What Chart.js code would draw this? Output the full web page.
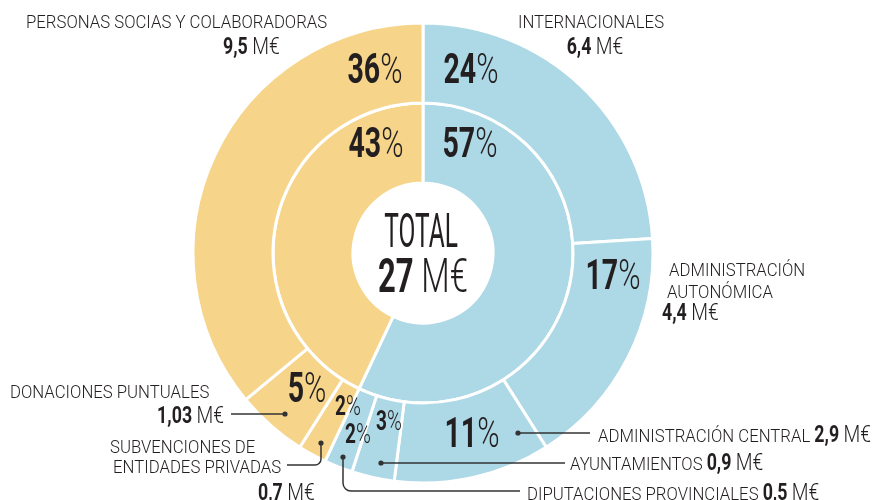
<!DOCTYPE html>
<html>
<head>
<meta charset="utf-8">
<script src="https://cdn.jsdelivr.net/npm/chart.js@4/dist/chart.umd.min.js"></script>
<style>
  html, body { margin: 0; padding: 0; background: #fff; }
  #wrap { width: 878px; height: 500px; }
</style>
</head>
<body>
<div id="wrap"><canvas id="chart" width="878" height="500"></canvas></div>
<script>
/* ===== Ingresos: doble anillo ===== */

// Outer ring (clockwise from 12 o'clock)
const outerLabels = [
  'INTERNACIONALES',
  'ADMINISTRACIÓN AUTONÓMICA',
  'ADMINISTRACIÓN CENTRAL',
  'AYUNTAMIENTOS',
  'DIPUTACIONES PROVINCIALES',
  'SUBVENCIONES DE ENTIDADES PRIVADAS',
  'DONACIONES PUNTUALES',
  'PERSONAS SOCIAS Y COLABORADORAS'
];
const outerPercent = [24, 17, 11, 3, 2, 2, 5, 36];
const outerAmount  = ['6,4', '4,4', '2,9', '0,9', '0,5', '0,7', '1,03', '9,5'];
const outerGroup   = ['pub', 'pub', 'pub', 'pub', 'pub', 'priv', 'priv', 'priv'];

// Inner ring
const innerLabels  = ['Público', 'Privado'];
const innerPercent = [57, 43];
const innerGroup   = ['pub', 'priv'];

const totalAmount = '27';

const COLORS = { pub: '#ADD8E6', priv: '#F6D58B', ink: '#231F20', line: '#333333' };
const FONT = 'Roboto, "DejaVu Sans", sans-serif';

// where each label sits (annotation layout, not data)
const outerPctPos = [
  { x: 471, y: 83,  size: 42 },
  { x: 613, y: 289, size: 42 },
  { x: 472, y: 447, size: 42 },
  { x: 389, y: 430, size: 28 },
  { x: 358, y: 443, size: 28 },
  { x: 348, y: 415, size: 28 },
  { x: 307, y: 402, size: 42 },
  { x: 375, y: 83,  size: 42 }
];
const innerPctPos = [
  { x: 470, y: 157, size: 42 },
  { x: 376, y: 157, size: 42 }
];

function runs(ctx, parts, x, y, align) {
  let total = 0;
  parts.forEach(p => {
    ctx.font = `${p.w} ${p.s}px ${FONT}`;
    p.width = ctx.measureText(p.t).width * p.sx;
    total += p.width;
  });
  let cx = align === 'center' ? x - total / 2 : align === 'right' ? x - total : x;
  parts.forEach(p => {
    ctx.save();
    ctx.font = `${p.w} ${p.s}px ${FONT}`;
    ctx.fillStyle = COLORS.ink;
    ctx.textBaseline = 'alphabetic';
    ctx.textAlign = 'left';
    ctx.translate(cx, y);
    ctx.scale(p.sx, 1);
    ctx.fillText(p.t, 0, 0);
    ctx.restore();
    cx += p.width;
  });
}

const light = (t, s) => ({ t, w: 300, s: s || 18, sx: 0.93 });
const bold  = (t, s, k) => ({ t, w: 700, s: s || 24, sx: 0.68 * (k || 1) });
const thin  = (t, s, k) => ({ t, w: 300, s: s || 24, sx: 0.72 * (k || 1) });
const pct = (v, s) => [bold(String(v), s), thin('%', s)];
const money = (v, s, k) => [bold(v + ' ', s, k || 1.09), thin('M€', s, k || 1.12)];

function leader(ctx, pts, r) {
  ctx.save();
  ctx.strokeStyle = COLORS.line;
  ctx.fillStyle = COLORS.line;
  ctx.lineWidth = 1.5;
  ctx.beginPath();
  ctx.moveTo(pts[0][0], pts[0][1]);
  for (let i = 1; i < pts.length - 1; i++) {
    ctx.arcTo(pts[i][0], pts[i][1], pts[i + 1][0], pts[i + 1][1], r || 6);
  }
  ctx.lineTo(pts[pts.length - 1][0], pts[pts.length - 1][1]);
  ctx.stroke();
  ctx.beginPath();
  ctx.arc(pts[0][0], pts[0][1], 2.6, 0, Math.PI * 2);
  ctx.fill();
  ctx.restore();
}

const annotate = {
  id: 'annotate',
  afterDraw(chart) {
    const ctx = chart.ctx;

    // percentages on the rings
    outerPercent.forEach((v, i) => {
      const p = outerPctPos[i];
      runs(ctx, pct(v, p.size), p.x, p.y, 'center');
    });
    innerPercent.forEach((v, i) => {
      const p = innerPctPos[i];
      runs(ctx, pct(v, p.size), p.x, p.y, 'center');
    });

    // centre
    runs(ctx, [{ t: 'TOTAL', w: 400, s: 49, sx: 0.5 }], 421, 247, 'center');
    runs(ctx, money(totalAmount, 49, 0.93), 423, 292, 'center');

    // leaders
    leader(ctx, [[285, 414], [231, 414]]);
    leader(ctx, [[321, 443], [321, 465], [287, 465]], 6);
    leader(ctx, [[343, 457], [343, 491], [520, 491]], 8);
    leader(ctx, [[381, 463], [565, 463]]);
    leader(ctx, [[518, 433], [590, 433]]);

    // category labels
    runs(ctx, [light(outerLabels[7])], 26, 28, 'left');
    runs(ctx, money(outerAmount[7]), 223, 54, 'left');

    runs(ctx, [light(outerLabels[0])], 591, 28, 'center');
    runs(ctx, money(outerAmount[0]), 595, 54, 'center');

    runs(ctx, [light('ADMINISTRACIÓN')], 669, 276, 'left');
    runs(ctx, [light('AUTONÓMICA')], 667, 298, 'left');
    runs(ctx, money(outerAmount[1]), 662, 320, 'left');

    runs(ctx, [light(outerLabels[6])], 10, 398, 'left');
    runs(ctx, money(outerAmount[6]), 224, 423, 'right');

    runs(ctx, [light('SUBVENCIONES DE')], 110, 453, 'left');
    runs(ctx, [light('ENTIDADES PRIVADAS')], 113, 473, 'left');
    runs(ctx, money(outerAmount[5]), 258, 500, 'left');

    runs(ctx, [light(outerLabels[2] + ' ')].concat(money(outerAmount[2])), 598, 442, 'left');
    runs(ctx, [light(outerLabels[3] + ' ')].concat(money(outerAmount[3])), 570, 470, 'left');
    runs(ctx, [light(outerLabels[4] + ' ')].concat(money(outerAmount[4])), 527, 500, 'left');
  }
};

const ctx = document.getElementById('chart').getContext('2d');
new Chart(ctx, {
  type: 'doughnut',
  data: {
    labels: outerLabels,
    datasets: [
      {
        label: 'Desglose',
        data: outerPercent,
        backgroundColor: outerGroup.map(g => COLORS[g]),
        borderColor: '#ffffff',
        borderWidth: 3
      },
      {
        label: 'Origen',
        data: innerPercent,
        backgroundColor: innerGroup.map(g => COLORS[g]),
        borderColor: '#ffffff',
        borderWidth: 3
      }
    ]
  },
  options: {
    responsive: false,
    animation: false,
    cutout: 70,
    layout: { padding: { left: 191.5, right: 223.5, top: 21.5, bottom: 15.5 } },
    plugins: {
      legend: { display: false },
      tooltip: { enabled: false }
    }
  },
  plugins: [annotate]
});
</script>
</body>
</html>
